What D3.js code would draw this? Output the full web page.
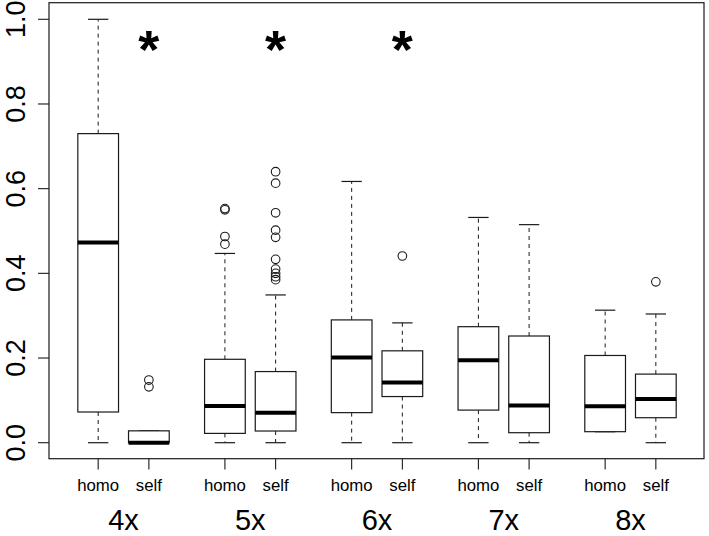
<!DOCTYPE html>
<html>
<head>
<meta charset="utf-8">
<script src="https://cdn.jsdelivr.net/npm/d3@7"></script>
<style>
  html, body { margin: 0; padding: 0; background: #fff; }
  svg { display: block; }
  text { font-family: "Liberation Sans", Arial, sans-serif; fill: #000; }
</style>
</head>
<body>
<svg id="chart" width="709" height="536"></svg>
<script>
// ---- data ----
const groups = ["4x", "5x", "6x", "7x", "8x"];
const types = ["homo", "self"];
const positions = [1, 2, 3.5, 4.5, 6, 7, 8.5, 9.5, 11, 12];
const whiskerLow = [0, 0, 0, 0, 0, 0, 0, 0, 0.026, 0];
const q1 = [0.0725, 0, 0.022, 0.0276, 0.071, 0.109, 0.077, 0.0236, 0.026, 0.059];
const median = [0.473, 0, 0.0867, 0.071, 0.201, 0.142, 0.195, 0.088, 0.086, 0.103];
const q3 = [0.730, 0.028, 0.197, 0.168, 0.290, 0.217, 0.274, 0.252, 0.206, 0.162];
const whiskerHigh = [1.0, 0.028, 0.447, 0.349, 0.617, 0.283, 0.532, 0.515, 0.313, 0.304];
const outliers = [
  [],
  [0.148, 0.132],
  [0.553, 0.550, 0.487, 0.469],
  [0.640, 0.613, 0.543, 0.502, 0.485, 0.433, 0.410, 0.400, 0.392, 0.385],
  [],
  [0.441],
  [],
  [],
  [],
  [0.380]
];
const significant = [true, true, true, false, false]; // asterisk above "self" box
const yTicks = [0, 0.2, 0.4, 0.6, 0.8, 1.0];

// ---- layout ----
const svg = d3.select("#chart");
const frame = { left: 49, right: 704, top: 2.7, bottom: 458.7 };
const x = d3.scaleLinear().domain([0.03, 12.95]).range([frame.left, frame.right]);
const y = d3.scaleLinear().domain([0, 1]).range([442.7, 19.3]);
const boxW = 40.7;
const stroke = "#1a1a1a";

// frame
svg.append("rect")
  .attr("x", frame.left).attr("y", frame.top)
  .attr("width", frame.right - frame.left).attr("height", frame.bottom - frame.top)
  .attr("fill", "none").attr("stroke", stroke).attr("stroke-width", 1.2);

// boxes
const boxes = positions.map((p, i) => ({
  p, lo: whiskerLow[i], q1: q1[i], med: median[i], q3: q3[i], hi: whiskerHigh[i], out: outliers[i]
}));
const g = svg.append("g");
boxes.forEach(b => {
  const cx = x(b.p);
  if (b.hi > b.q3) {
    g.append("line").attr("x1", cx).attr("x2", cx).attr("y1", y(b.q3)).attr("y2", y(b.hi))
      .attr("stroke", stroke).attr("stroke-dasharray", "4,4");
  }
  if (b.lo < b.q1) {
    g.append("line").attr("x1", cx).attr("x2", cx).attr("y1", y(b.q1)).attr("y2", y(b.lo))
      .attr("stroke", stroke).attr("stroke-dasharray", "4,4");
  }
  [b.lo, b.hi].forEach(v => {
    g.append("line").attr("x1", cx - boxW / 4).attr("x2", cx + boxW / 4)
      .attr("y1", y(v)).attr("y2", y(v)).attr("stroke", stroke).attr("stroke-width", 1.2);
  });
  g.append("rect").attr("x", cx - boxW / 2).attr("width", boxW)
    .attr("y", y(b.q3)).attr("height", Math.max(0.01, y(b.q1) - y(b.q3)))
    .attr("fill", "#fff").attr("stroke", stroke).attr("stroke-width", 1.2);
  g.append("line").attr("x1", cx - boxW / 2).attr("x2", cx + boxW / 2)
    .attr("y1", y(b.med)).attr("y2", y(b.med)).attr("stroke", "#000").attr("stroke-width", 4);
  b.out.forEach(v => {
    g.append("circle").attr("cx", cx).attr("cy", y(v)).attr("r", 4.3)
      .attr("fill", "none").attr("stroke", stroke).attr("stroke-width", 1.1);
  });
});

// significance asterisks
groups.forEach((grp, gi) => {
  if (!significant[gi]) return;
  svg.append("text").attr("x", x(positions[gi * 2 + 1])).attr("y", 68)
    .attr("text-anchor", "middle").attr("font-size", 54).attr("font-weight", "bold")
    .text("*");
});

// y axis
const yAxis = svg.append("g");
yTicks.forEach(t => {
  yAxis.append("line").attr("x1", 38).attr("x2", frame.left).attr("y1", y(t)).attr("y2", y(t))
    .attr("stroke", stroke).attr("stroke-width", 1.1);
  yAxis.append("text")
    .attr("transform", `translate(25,${y(t)}) rotate(-90)`)
    .attr("text-anchor", "middle").attr("font-size", 27)
    .text(d3.format(".1f")(t));
});

// x axis
const xAxis = svg.append("g");
positions.forEach((p, i) => {
  xAxis.append("line").attr("x1", x(p)).attr("x2", x(p)).attr("y1", frame.bottom).attr("y2", 469.5)
    .attr("stroke", stroke).attr("stroke-width", 1.1);
  xAxis.append("text").attr("x", x(p)).attr("y", 490.7)
    .attr("text-anchor", "middle").attr("font-size", 16.8)
    .text(types[i % 2]);
});
groups.forEach((grp, gi) => {
  const cx = (x(positions[gi * 2]) + x(positions[gi * 2 + 1])) / 2;
  svg.append("text").attr("x", cx).attr("y", 529.5)
    .attr("text-anchor", "middle").attr("font-size", 29)
    .text(grp);
});
</script>
</body>
</html>
